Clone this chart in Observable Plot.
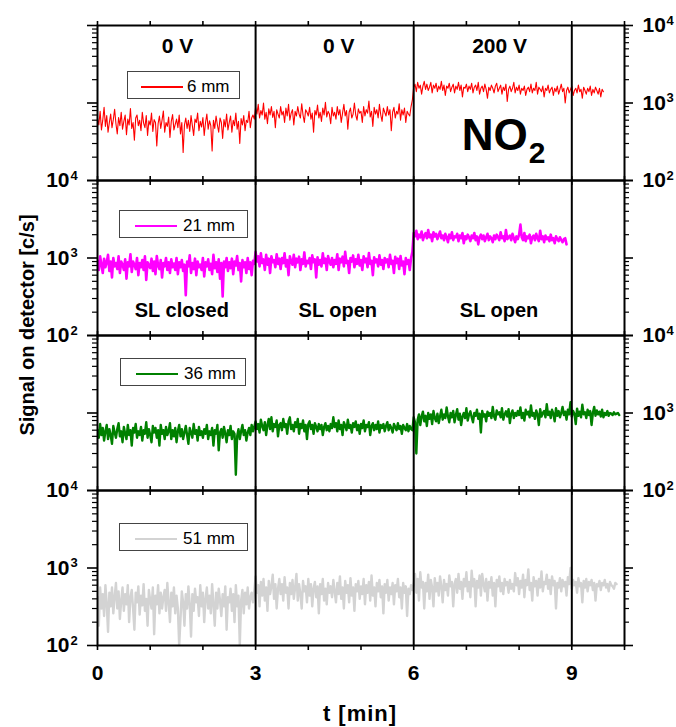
<!DOCTYPE html>
<html>
<head>
<meta charset="utf-8">
<script src="https://cdn.jsdelivr.net/npm/d3@7"></script>
<script src="https://cdn.jsdelivr.net/npm/@observablehq/plot@0.6"></script>
<style>
  body { margin: 0; background: #fff; font-family: "Liberation Sans", Arial, sans-serif; }
  #chart { position: relative; width: 676px; height: 727px; overflow: hidden; }
  #chart svg { position: absolute; left: 0; }
  .legend { position: absolute; box-sizing: border-box; border: 1px solid #444; background: #fff; font-size: 17px; color: #000; }
  .legend .swatch { position: absolute; }
  .legend .lab { position: absolute; line-height: 1; white-space: nowrap; }
  .axis-title { position: absolute; font-weight: bold; white-space: nowrap; color: #000; }
</style>
</head>
<body>
<div id="chart"></div>
<script>
// ---------------- data (c/s), sampled every dt minutes ----------------
const dt = 0.025;
const segmentStarts = [0, 3, 6]; // minutes

// 6 mm (red)
const s6_a = [640,520,780,450,600,880,500,690,420,560,720,480,610,830,540,400,650,510,760,460,
  580,700,390,620,520,850,470,560,330,640,700,510,600,440,760,550,480,690,380,590,
  520,740,430,610,560,280,540,680,470,600,790,420,560,500,660,360,580,710,450,530,
  620,480,700,400,560,230,520,640,470,600,430,690,510,380,620,560,740,440,580,490,
  650,380,560,720,460,590,510,240,600,470,680,520,420,640,560,350,610,490,720,450,
  560,680,420,600,510,740,460,580,300,630,520,690,440,600,560,780,480,640,700,620];
const s6_b = [880,720,960,640,800,700,1000,620,760,540,840,700,900,650,780,480,820,720,640,900,
  700,780,560,860,680,960,600,740,820,520,780,680,900,720,640,980,700,560,820,760,
  680,880,620,740,420,800,700,940,640,760,580,860,700,1020,660,780,720,540,880,680,
  760,620,900,700,820,560,740,960,680,800,460,760,860,640,720,1000,700,600,840,740,
  780,560,900,680,820,740,1060,660,780,500,880,720,820,640,960,700,580,860,760,680,
  900,700,820,440,760,880,640,780,720,980,600,820,700,860,560,780,720,680,900,1100];
const s6_c = [1600,1750,1400,1850,1550,1700,1300,1650,1900,1500,1750,1450,1600,1850,1350,1700,1550,1800,1400,1650,
  1500,1900,1450,1700,1250,1650,1550,1800,1400,1600,1750,1350,1650,1500,1850,1450,1700,1200,1600,1550,
  1750,1400,1650,1500,1800,1350,1600,1700,1450,1850,1300,1550,1650,1400,1750,1500,1150,1600,1450,1700,
  1550,1350,1650,1800,1400,1550,1700,1300,1600,1450,1750,1050,1500,1650,1400,1550,1850,1350,1600,1450,
  1700,1300,1550,1450,1650,1250,1500,1600,1400,1750,1350,1550,1450,1850,1300,1600,1500,1400,1650,1200,
  1550,1450,1700,1350,1500,1600,1250,1550,1400,1650,1300,1500,1750,1400,1550,1000,1450,1600,1350,1500,
  1650,1250,1450,1550,1350,1700,1400,1500,1150,1600,1450,1300,1550,1400,1650,1250,1500,1350,1600,1450,
  1300,1550,1200,1500,1400];

// 21 mm (magenta)
const s21_a = [920,700,1050,820,640,980,760,880,1100,680,900,560,1000,780,860,720,1050,640,900,820,
  700,960,540,880,780,1120,660,900,820,720,1000,600,860,760,940,700,1050,520,880,800,
  740,980,680,900,620,1060,800,720,940,560,860,780,1000,700,880,640,960,760,850,700,
  1000,620,880,760,940,680,820,330,900,780,1080,640,860,720,980,600,900,760,820,700,
  1000,580,880,780,960,700,840,620,1100,740,880,660,960,540,860,320,900,760,1000,680,
  880,740,980,620,900,800,1060,700,860,500,940,760,880,640,1000,720,880,600,920,840];
const s21_b = [1200,900,1050,780,1150,860,960,700,1100,820,980,640,1050,880,940,760,1120,840,980,720,
  1000,860,1150,780,940,600,1050,900,820,1100,760,980,880,1040,700,960,840,1180,780,920,
  860,1000,720,1080,880,960,560,1020,820,940,780,1150,860,980,700,1060,900,820,1000,760,
  940,840,1120,700,980,880,1040,780,1200,860,920,640,1000,900,1080,760,960,840,1100,800,
  940,700,1050,880,980,760,1160,840,920,600,1020,880,960,780,1080,820,940,720,1000,880,
  960,760,1100,840,920,640,1040,860,980,720,1060,800,900,620,1000,840,940,700,1000,1200];
const s21_c = [2100,1900,2250,1750,2000,1850,2200,1700,1950,2100,1800,2300,1850,2000,1650,2150,1900,2050,1750,1950,
  2200,1800,1950,1700,2050,1850,1600,2000,1800,2150,1700,1900,1850,2050,1650,1950,1800,2100,1550,1900,
  1750,2000,1850,1650,1950,1800,2100,1700,1900,1500,1850,2000,1750,1950,1650,1850,2050,1700,1900,1800,
  1600,1950,1750,2000,1850,1700,2150,1800,1900,1650,2300,1750,1850,1950,1700,2050,1800,1600,1900,1750,
  2000,2700,1850,1700,2100,1650,1900,1800,2000,1550,1850,1950,1700,2050,1800,1650,2250,1750,1900,1600,
  1950,1750,1850,1650,2000,1700,1800,1550,1900,1750,1650,1850,1700,1600,1750,1800,1500];

// 36 mm (green)
const s36_a = [600,480,720,520,640,440,580,700,460,620,520,400,680,560,480,620,740,500,580,420,
  660,540,460,700,520,600,380,640,560,720,480,580,520,660,440,600,540,760,480,620,
  520,420,680,560,640,480,600,380,700,540,600,460,660,520,580,740,460,600,500,640,
  420,580,700,500,620,460,560,680,520,400,640,560,480,720,540,600,440,660,520,580,
  480,620,540,700,460,580,520,640,380,600,540,700,330,560,620,480,660,540,420,600,
  520,680,460,580,540,160,500,620,460,580,700,520,600,440,560,640,520,700,580,660];
const s36_b = [780,620,720,560,820,680,600,760,520,700,840,620,880,580,720,660,800,500,700,740,
  600,840,660,720,540,780,880,620,700,580,760,660,840,540,720,640,800,580,700,460,
  720,780,620,700,540,740,660,580,720,620,700,520,660,740,600,680,580,720,640,880,
  660,740,580,800,620,700,520,760,680,600,820,640,700,560,740,660,780,600,700,540,
  720,640,800,580,700,660,760,520,680,740,600,700,620,780,560,700,640,720,580,680,
  760,600,700,640,560,720,660,600,740,620,680,540,700,640,600,720,580,680,620,600];
const s36_c = [880,760,300,820,960,700,900,1040,780,920,680,1000,840,960,720,1060,860,780,980,740,
  900,1100,820,960,860,1180,900,760,1000,880,1060,760,940,1120,820,980,700,900,1000,860,
  1150,800,960,1050,880,760,1000,920,1100,840,980,560,1060,900,960,780,1040,920,1000,860,
  1200,900,820,1080,960,1020,880,1150,820,960,1050,900,1120,740,980,1080,860,1000,920,1060,
  940,1180,860,1000,800,1100,960,1040,880,1250,920,1000,840,1080,960,700,1120,900,1000,1060,
  880,1300,940,1040,860,1100,980,780,1150,920,1060,880,1000,1200,940,1040,820,1100,960,1380,
  900,1060,980,720,1140,920,1040,880,1280,960,1020,860,1100,940,1060,700,1000,1200,920,1080,
  960,1040,900,1100,880,1000,940,1060,920,1000,980,940,1020,960,980,1000,940];

// 51 mm (light grey)
const s51_a = [420,180,560,300,460,240,600,350,150,480,320,560,260,420,640,300,500,220,380,560,
  280,460,340,600,200,420,520,300,160,480,360,580,250,440,330,620,280,400,180,520,
  380,300,560,140,440,340,600,260,480,300,420,520,280,640,360,200,480,320,560,260,
  440,300,100,220,500,360,180,460,300,580,340,130,460,280,540,360,420,240,600,320,
  480,200,400,560,300,440,260,620,340,180,480,300,540,380,240,460,320,580,160,420,
  360,540,280,460,200,600,320,440,100,380,520,260,480,340,560,300,420,480,360,500];
const s51_b = [780,480,600,320,660,440,720,380,560,280,680,460,580,820,400,620,300,540,720,460,
  620,380,760,480,560,300,640,460,700,400,560,840,380,620,460,300,680,500,580,360,
  720,440,620,320,540,660,420,580,260,620,460,720,380,540,340,640,480,580,420,700,
  500,360,640,460,780,400,560,300,680,480,600,360,740,440,560,280,620,500,680,400,
  580,460,720,340,600,480,660,380,800,440,560,320,640,500,700,420,580,260,620,480,
  700,380,560,460,640,340,600,500,720,420,560,300,640,480,580,240,540,460,600,520];
const s51_c = [620,840,480,720,380,880,560,660,300,640,500,820,400,700,560,320,740,500,640,440,
  780,580,360,700,520,620,440,800,580,660,320,620,720,480,840,540,660,400,720,580,
  880,500,660,420,920,580,720,320,680,560,800,440,840,620,500,720,380,660,560,760,
  440,640,320,700,580,780,500,640,460,720,600,660,480,700,540,620,500,860,600,740,
  460,680,560,820,420,700,600,960,520,640,380,760,580,680,440,720,560,900,500,660,
  620,820,540,700,460,780,600,680,300,640,560,740,500,700,580,660,440,760,620,1000,
  540,700,600,660,480,740,580,640,360,680,560,720,500,660,600,700,520,640,380,620,
  580,680,520,640,600,700,560,620,500,660,600,580,540,640,620];

const seriesLabels = ["6 mm", "21 mm", "36 mm", "51 mm"];
const seriesSegments = [[s6_a, s6_b, s6_c], [s21_a, s21_b, s21_c], [s36_a, s36_b, s36_c], [s51_a, s51_b, s51_c]];

// axis ticks
const xTicks = [0,1,2,3,4,5,6,7,8,9,10];
const xLabeled = [0, 3, 6, 9];
const separators = [3, 6, 9];
const yMajor = [100, 1000, 10000];
const yMinor = [200,300,400,500,600,700,800,900,2000,3000,4000,5000,6000,7000,8000,9000];

// annotations (data space: t in min, signal in c/s)
const voltageText = ["0 V", "0 V", "200 V"];
const voltageT = [1.52, 4.58, 7.63];
const voltageY = 4400;
const shutterText = ["SL closed", "SL open", "SL open"];
const shutterT = [1.6, 4.56, 7.62];
const shutterY = 171;
const gasMain = "NO", gasSub = "2", gasT = 6.91, gasY = 251;

// ---------------- styles ----------------
const colors = ["#ff0000", "#ff00ff", "#008000", "#d3d3d3"];
const widths = [1.1, 2.6, 2.4, 2.4];
const labelSide = ["right", "left", "right", "left"];
const frameTop = 25, panelH = 155, W = 676, ML = 97, MR = 52;
const legendBoxes = [
  {left:127, top:71, w:113, h:28},
  {left:119, top:210, w:129, h:28},
  {left:120, top:358, w:126, h:28},
  {left:119, top:523, w:129, h:28}
];
const font = "'Liberation Sans', Arial, sans-serif";

const chart = document.getElementById("chart");

function rows(k) {
  const out = [];
  seriesSegments[k].forEach((seg, j) => {
    seg.forEach((v, i) => out.push({t: segmentStarts[j] + i * dt, v}));
  });
  return out;
}

const blank = () => "";

for (let k = 0; k < 4; k++) {
  const mt = k === 0 ? 25 : 15;
  const mb = k === 3 ? 55 : 15;
  const side = labelSide[k];
  const marks = [
    Plot.line(rows(k), {x: "t", y: "v", stroke: colors[k], strokeWidth: widths[k], clip: true}),
    Plot.ruleX(separators, {stroke: "#000", strokeWidth: 2}),
    Plot.axisY(yMajor, {anchor: "left", tickSize: 10, tickFormat: blank, strokeWidth: 1.6, label: null}),
    Plot.axisY(yMinor, {anchor: "left", tickSize: 5, tickFormat: blank, strokeWidth: 1.2, label: null}),
    Plot.axisY(yMajor, {anchor: "right", tickSize: 8, tickFormat: blank, strokeWidth: 1.6, label: null}),
    Plot.axisY(yMinor, {anchor: "right", tickSize: 4, tickFormat: blank, strokeWidth: 1.2, label: null}),
    Plot.axisX(xTicks, {anchor: "top", tickSize: 5, tickFormat: blank, strokeWidth: 1.6, label: null}),
    Plot.axisX(xTicks, {anchor: "bottom", tickSize: 5, strokeWidth: 1.6, label: null,
      tickPadding: 15, fontSize: 21, fontWeight: "bold",
      tickFormat: k === 3 ? (d => xLabeled.includes(d) ? String(d) : "") : blank}),
    Plot.frame({stroke: "#000", strokeWidth: 2}),
    Plot.text(yMajor, {y: d => d, text: () => "10", frameAnchor: side,
      textAnchor: side === "left" ? "end" : "start", dx: side === "left" ? -28 : 18,
      fontSize: 21, fontWeight: "bold", lineAnchor: "middle"}),
    Plot.text(yMajor, {y: d => d, text: d => String(Math.round(Math.log10(d))), frameAnchor: side,
      textAnchor: "start", dx: side === "left" ? -27 : 42, dy: -1,
      fontSize: 13, fontWeight: "bold", lineAnchor: "bottom"})
  ];
  if (k === 0) {
    marks.push(Plot.text(voltageText, {x: (d, i) => voltageT[i], y: () => voltageY, text: d => d,
      fontSize: 21, fontWeight: "bold", lineAnchor: "bottom"}));
    marks.push(Plot.text([gasMain], {x: () => gasT, y: () => gasY, text: d => d,
      textAnchor: "start", fontSize: 44, fontWeight: "bold", lineAnchor: "bottom"}));
    marks.push(Plot.text([gasSub], {x: () => gasT, y: () => gasY, text: d => d, dx: 67, dy: 13,
      textAnchor: "start", fontSize: 30, fontWeight: "bold", lineAnchor: "bottom"}));
  }
  if (k === 1) {
    marks.push(Plot.text(shutterText, {x: (d, i) => shutterT[i], y: () => shutterY, text: d => d,
      fontSize: 20, fontWeight: "bold", lineAnchor: "bottom"}));
  }
  const svg = Plot.plot({
    width: W,
    height: panelH + mt + mb,
    marginLeft: ML, marginRight: MR, marginTop: mt, marginBottom: mb,
    x: {domain: [0, 10], label: null},
    y: {type: "log", domain: [100, 10000], label: null},
    style: {background: "transparent", overflow: "visible", fontFamily: font, color: "#000"},
    marks
  });
  svg.style.top = (frameTop + panelH * k - mt) + "px";
  chart.appendChild(svg);

  // legend box
  const b = legendBoxes[k];
  const lg = document.createElement("div");
  lg.className = "legend";
  Object.assign(lg.style, {left: b.left + "px", top: b.top + "px", width: b.w + "px", height: b.h + "px"});
  const sw = document.createElement("div");
  sw.className = "swatch";
  const lw = Math.max(1.5, widths[k]);
  Object.assign(sw.style, {left: (k === 0 ? 13 : 15) + "px", width: "42px", height: lw + "px",
    top: (b.h / 2 - 1 - lw / 2 + 2) + "px", background: colors[k]});
  const lab = document.createElement("div");
  lab.className = "lab";
  lab.textContent = seriesLabels[k];
  Object.assign(lab.style, {left: (k === 0 ? 59 : 63) + "px", top: "6px"});
  lg.appendChild(sw);
  lg.appendChild(lab);
  chart.appendChild(lg);
}

// axis titles
const yt = document.createElement("div");
yt.className = "axis-title";
yt.textContent = "Signal on detector [c/s]";
Object.assign(yt.style, {left: "27px", top: "325px", fontSize: "20px",
  transform: "translate(-50%, -50%) rotate(-90deg)"});
chart.appendChild(yt);

const xt = document.createElement("div");
xt.className = "axis-title";
xt.textContent = "t [min]";
Object.assign(xt.style, {left: "360px", top: "714px", fontSize: "22px", letterSpacing: "1px",
  transform: "translate(-50%, -50%)"});
chart.appendChild(xt);
</script>
</body>
</html>
